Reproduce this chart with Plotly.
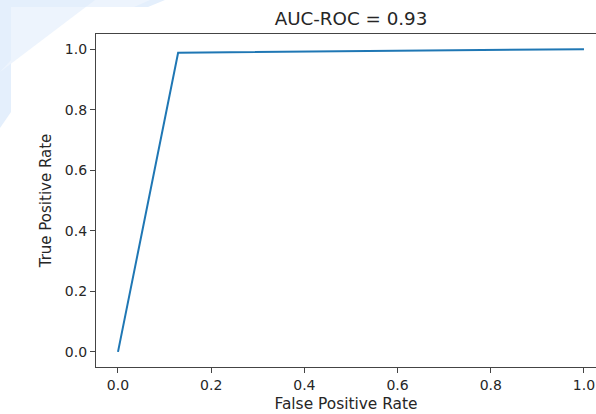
import plotly.graph_objects as go

fpr = [0.0, 0.129, 1.0]
tpr = [0.0, 0.988, 1.0]
title_text = "AUC-ROC = 0.93"
x_label = "False Positive Rate"
y_label = "True Positive Rate"
tick_vals = [0.0, 0.2, 0.4, 0.6, 0.8, 1.0]
tick_text = ["0.0", "0.2", "0.4", "0.6", "0.8", "1.0"]

W, H = 596, 414
L, R, T, B = 96, 0, 34, 47
PW, PH = W - L - R, H - T - B

def px(x):
    return (x - L) / PW

def py(y):
    return (H - B - y) / PH

FONT = "DejaVu Sans"
INK = "#262626"

fig = go.Figure()
fig.add_trace(go.Scatter(x=fpr, y=tpr, mode="lines",
                         line=dict(color="#1f77b4", width=2), showlegend=False))

# decorative light-blue page corner
pts = [(0, 0), (165, 0), (148, 7), (11, 7), (11, 112), (0, 128)]
path = "M " + " L ".join(f"{px(a)},{py(b)}" for a, b in pts) + " Z"
pts2 = [(95, 0), (150, 0), (134, 7), (11, 7), (11, 60), (0, 72)]
path2 = "M " + " L ".join(f"{px(a)},{py(b)}" for a, b in pts2) + " Z"

shapes = [
    dict(type="path", xref="paper", yref="paper", path=path,
         fillcolor="#e4effc", line=dict(width=0), layer="below"),
    dict(type="path", xref="paper", yref="paper", path=path2,
         fillcolor="#edf4fd", line=dict(width=0), layer="below"),
]

fig.update_layout(
    width=W, height=H,
    margin=dict(l=L, r=R, t=T, b=B, pad=0),
    paper_bgcolor="white", plot_bgcolor="white",
    font=dict(family=FONT, size=14, color=INK),
    shapes=shapes,
    title=dict(text=title_text, font=dict(family=FONT, size=18.3, color=INK),
               x=px(351), xref="paper", xanchor="center",
               y=1 - 19 / H, yref="container", yanchor="middle"),
    xaxis=dict(range=[-0.0472, 1.0258], tickvals=tick_vals, ticktext=tick_text,
               showgrid=False, zeroline=False, showline=True, linecolor="#444",
               linewidth=1.2, mirror=True, ticks="outside", ticklen=5,
               tickcolor="#444", tickfont=dict(size=14, color=INK),
               title=dict(text=x_label, font=dict(size=15.4, color=INK), standoff=6)),
    yaxis=dict(range=[-0.05, 1.05], tickvals=tick_vals, ticktext=tick_text,
               showgrid=False, zeroline=False, showline=True, linecolor="#444",
               linewidth=1.2, mirror=False, ticks="outside", ticklen=5,
               tickcolor="#444", tickfont=dict(size=14, color=INK),
               title=dict(text=y_label, font=dict(size=15, color=INK), standoff=9)),
)

fig.write_html("out.html")
